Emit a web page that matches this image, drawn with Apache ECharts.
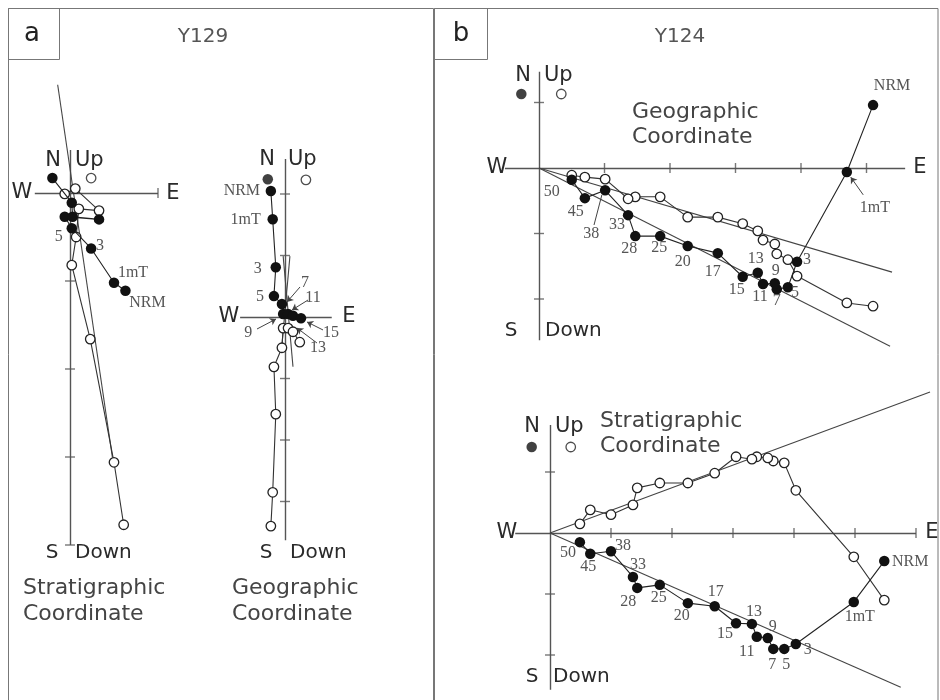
<!DOCTYPE html>
<html><head><meta charset="utf-8">
<script src="https://cdn.jsdelivr.net/npm/echarts@6/dist/echarts.min.js"></script>
<style>html,body{margin:0;padding:0;background:#fff}#c{width:940px;height:700px}</style>
</head><body><div id="c"></div>
<script>
// ================= DATA (values in axis-tick units) =================
// ---- Y129, stratigraphic coordinate (panel a, left) ----
const a1Steps = ['NRM','1mT','3','5','','','','',''];
const a1Horizontal = [[0.63,-1.11],[0.50,-1.02],[0.24,-0.63],[0.02,-0.40],[-0.06,-0.27],[0.33,-0.30],[0.03,-0.27],[0.02,-0.11],[-0.20,0.17]];
const a1Vertical   = [[0.61,-3.77],[0.50,-3.06],[0.23,-1.66],[0.02,-0.82],[0.07,-0.50],[0.10,-0.18],[0.33,-0.20],[0.06,0.05],[-0.06,-0.01]];
const a1Fits = [[[-0.14,1.23],[0.49,-3.06]]];
const a1LegendClosed = [];
const a1LegendOpen = [[0.24,0.17]];
const a1AxisX = [-0.40,1.0], a1AxisY = [-4.0,0.49];
const a1TicksX = [1], a1TicksY = [-1,-2,-3,-4];

// ---- Y129, geographic coordinate (panel a, right) ----
const a2Steps = ['NRM','1mT','3','5','7','9','11','13','15'];
const a2Horizontal = [[-0.23,2.05],[-0.20,1.59],[-0.15,0.81],[-0.18,0.34],[-0.05,0.21],[-0.03,0.05],[0.05,0.05],[0.13,0.02],[0.26,-0.02]];
const a2Vertical   = [[-0.23,-3.40],[-0.20,-2.85],[-0.15,-1.58],[-0.18,-0.81],[-0.05,-0.50],[-0.03,-0.18],[0.05,-0.18],[0.13,-0.24],[0.24,-0.41]];
const a2Fits = [[[-0.03,0.99],[0.13,-0.81]],[[0.08,0.99],[-0.05,-0.46]]];
const a2LegendClosed = [[-0.28,2.24]];
const a2LegendOpen = [[0.34,2.23]];
const a2AxisX = [-0.73,0.76], a2AxisY = [-3.63,2.57];
const a2TicksX = [], a2TicksY = [2,1,-1,-2,-3];

// ---- Y124, geographic coordinate (panel b, top) ----
const b1Steps = ['NRM','1mT','3','5','7','9','11','13','15','17','20','25','28','33','38','45','50'];
const b1Horizontal = [[5.10,0.96],[4.70,-0.06],[3.94,-1.43],[3.80,-1.82],[3.63,-1.85],[3.60,-1.76],[3.42,-1.77],[3.34,-1.60],[3.11,-1.66],[2.73,-1.30],[2.27,-1.19],[1.85,-1.04],[1.47,-1.04],[1.36,-0.72],[1.01,-0.34],[0.70,-0.46],[0.50,-0.18]];
const b1Vertical   = [[5.10,-2.11],[4.70,-2.06],[3.94,-1.65],[3.80,-1.40],[3.63,-1.31],[3.60,-1.16],[3.42,-1.10],[3.34,-0.96],[3.11,-0.85],[2.73,-0.75],[2.27,-0.75],[1.85,-0.44],[1.47,-0.44],[1.36,-0.47],[1.01,-0.17],[0.70,-0.14],[0.50,-0.11]];
const b1Fits = [[[0,0],[5.36,-2.72]],[[0,0],[5.39,-1.59]]];
const b1LegendClosed = [[-0.27,1.13]];
const b1LegendOpen = [[0.34,1.13]];
const b1AxisX = [-0.52,5.59], b1AxisY = [-2.63,1.47];
const b1TicksX = [1,2,3,4,5], b1TicksY = [1,-1,-2];

// ---- Y124, stratigraphic coordinate (panel b, bottom) ----
const b2Steps = ['NRM','1mT','3','5','7','9','11','13','15','17','20','25','28','33','38','45','50'];
const b2Horizontal = [[5.48,-0.46],[4.98,-1.13],[4.03,-1.82],[3.84,-1.90],[3.66,-1.90],[3.57,-1.72],[3.39,-1.70],[3.31,-1.49],[3.05,-1.48],[2.70,-1.20],[2.26,-1.15],[1.80,-0.85],[1.43,-0.90],[1.36,-0.72],[1.00,-0.30],[0.66,-0.34],[0.49,-0.15]];
const b2Vertical   = [[5.48,-1.10],[4.98,-0.39],[4.03,0.70],[3.84,1.15],[3.66,1.18],[3.57,1.23],[3.39,1.25],[3.31,1.21],[3.05,1.25],[2.70,0.98],[2.26,0.82],[1.80,0.82],[1.43,0.74],[1.36,0.46],[1.00,0.30],[0.66,0.38],[0.49,0.15]];
const b2Fits = [[[0,0],[6.23,2.31]],[[0,0],[5.75,-2.53]]];
const b2LegendClosed = [[-0.30,1.41]];
const b2LegendOpen = [[0.34,1.41]];
const b2AxisX = [-0.57,6.0], b2AxisY = [-2.57,1.77];
const b2TicksX = [1,2,3,4,5,6], b2TicksY = [1,-1,-2];

// ================= LAYOUT / STYLE =================
const SANS = '"DejaVu Sans", "Liberation Sans", Arial, sans-serif';
const SERIF = '"Liberation Serif", "Times New Roman", serif';
const LABEL_COLOR = '#555';

// origin pixel + pixels per unit, and visible range of each grid
const frames = [
  {ox:70,  oy:193, u:88,   xr:[-0.6,1.6], yr:[-4.3,1.4]},
  {ox:285, oy:317, u:61.5, xr:[-0.9,1.0], yr:[-3.8,2.9]},
  {ox:539, oy:168, u:65.5, xr:[-0.8,5.8], yr:[-2.9,1.6]},
  {ox:550, oy:533, u:61,   xr:[-0.8,6.2], yr:[-2.7,1.9]}
];

// label offsets (px) of step names relative to the closed symbols
const labelOffsets = [
  {'NRM':[22,12],'1mT':[19,-10],'3':[9,-3],'5':[-13,9]},
  {'NRM':[-29,0],'1mT':[-27,1],'3':[-18,2],'5':[-14,1],'7':[23,-21],'11':[25,-16],'9':[-35,19],'13':[25,32],'15':[30,15]},
  {'NRM':[19,-19],'1mT':[28,36],'3':[10,-2],'5':[7,6],'7':[0,12],'9':[1,-12],'11':[-3,13],'13':[-2,-14],'15':[-6,13],'17':[-5,19],'20':[-5,16],'25':[-1,12],'28':[-6,13],'33':[-11,10],'38':[-14,44],'45':[-9,14],'50':[-20,12]},
  {'NRM':[26,1],'1mT':[6,15],'3':[12,6],'5':[2,16],'7':[-1,16],'9':[5,-11],'11':[-10,15],'13':[2,-12],'15':[-11,11],'17':[1,-14],'20':[-6,13],'25':[-1,13],'28':[-9,14],'33':[5,-12],'38':[12,-6],'45':[-2,13],'50':[-12,11]}
];
// leader lines / arrows (in data units of each frame)
const leaders = [
  [],
  [ {c:[[0.244,0.488],[0.033,0.244]],a:true},{c:[[0.374,0.276],[0.114,0.114]],a:true},{c:[[-0.455,-0.195],[-0.146,-0.033]],a:true},
    {c:[[0.618,-0.211],[0.358,-0.081]],a:true},{c:[[0.520,-0.423],[0.195,-0.179]],a:true} ],
  [ {c:[[0.84,-0.87],[0.96,-0.41]],a:false},{c:[[4.95,-0.41],[4.76,-0.14]],a:true} ],
  []
];

const diagrams = [
  {steps:a1Steps, h:a1Horizontal, v:a1Vertical, fits:a1Fits, lc:a1LegendClosed, lo:a1LegendOpen, ax:a1AxisX, ay:a1AxisY, tx:a1TicksX, ty:a1TicksY},
  {steps:a2Steps, h:a2Horizontal, v:a2Vertical, fits:a2Fits, lc:a2LegendClosed, lo:a2LegendOpen, ax:a2AxisX, ay:a2AxisY, tx:a2TicksX, ty:a2TicksY},
  {steps:b1Steps, h:b1Horizontal, v:b1Vertical, fits:b1Fits, lc:b1LegendClosed, lo:b1LegendOpen, ax:b1AxisX, ay:b1AxisY, tx:b1TicksX, ty:b1TicksY},
  {steps:b2Steps, h:b2Horizontal, v:b2Vertical, fits:b2Fits, lc:b2LegendClosed, lo:b2LegendOpen, ax:b2AxisX, ay:b2AxisY, tx:b2TicksX, ty:b2TicksY}
];

const grids = [], xAxes = [], yAxes = [], series = [];
frames.forEach((f, i) => {
  grids.push({left: f.ox + f.xr[0]*f.u, top: f.oy - f.yr[1]*f.u,
              width: (f.xr[1]-f.xr[0])*f.u, height: (f.yr[1]-f.yr[0])*f.u,
              outerBoundsMode: 'none', containLabel: false, show: false});
  xAxes.push({type:'value', gridIndex:i, min:f.xr[0], max:f.xr[1], show:false, splitLine:{show:false}});
  yAxes.push({type:'value', gridIndex:i, min:f.yr[0], max:f.yr[1], show:false, splitLine:{show:false}});
});

diagrams.forEach((d, i) => {
  const base = {xAxisIndex:i, yAxisIndex:i, animation:false, silent:true};
  // axes
  series.push(Object.assign({}, base, {type:'lines', coordinateSystem:'cartesian2d', clip:false, z:1,
    lineStyle:{color:'#555', width:1.4, opacity:1, curveness:0},
    data:[{coords:[[d.ax[0],0],[d.ax[1],0]]},{coords:[[0,d.ay[0]],[0,d.ay[1]]]}]}));
  if (d.tx.length) series.push(Object.assign({}, base, {type:'scatter', clip:false, z:1, symbol:'rect', symbolSize:[1.4,10],
    itemStyle:{color:'#555'}, data:d.tx.map(v=>[v,0])}));
  series.push(Object.assign({}, base, {type:'scatter', clip:false, z:1, symbol:'rect', symbolSize:[10,1.4],
    itemStyle:{color:'#555'}, data:d.ty.map(v=>[0,v])}));
  // fitted lines
  series.push(Object.assign({}, base, {type:'lines', coordinateSystem:'cartesian2d', clip:false, z:2,
    lineStyle:{color:'#444', width:1.1, opacity:1, curveness:0},
    data:d.fits.map(c=>({coords:c}))}));
  // leaders
  const L = leaders[i];
  if (L.length) {
    series.push(Object.assign({}, base, {type:'lines', coordinateSystem:'cartesian2d', clip:false, z:2,
      lineStyle:{color:'#444', width:1, opacity:1, curveness:0},
      data:L.map(l=>({coords:l.c, symbol:l.a?['none','arrow']:['none','none'], symbolSize:6}))}));
  }
  // open symbols: vertical projection
  series.push(Object.assign({}, base, {type:'line', clip:false, z:3, symbol:'circle', symbolSize:9.5, showSymbol:true,
    itemStyle:{color:'#fff', borderColor:'#222', borderWidth:1.3},
    lineStyle:{color:'#333', width:1.1}, data:d.v}));
  // closed symbols: horizontal projection
  const offs = labelOffsets[i];
  series.push(Object.assign({}, base, {type:'line', clip:false, z:4, symbol:'circle', symbolSize:10.5, showSymbol:true,
    itemStyle:{color:'#111', borderColor:'#111', borderWidth:0},
    lineStyle:{color:'#222', width:1.1},
    label:{show:false},
    data:d.h.map((p,k)=>{
      const s = d.steps[k]; const o = offs[s];
      return {name:s, value:p, label: o ? {show:true, position:'inside', offset:o, formatter:'{b}',
        fontFamily:SERIF, fontSize:16, color:LABEL_COLOR, align:'center', verticalAlign:'middle'} : {show:false}};
    })}));
  // legend symbols
  if (d.lc.length) series.push(Object.assign({}, base, {type:'scatter', clip:false, z:4, symbol:'circle', symbolSize:10.5,
    itemStyle:{color:'#111'}, data:d.lc}));
  if (d.lo.length) series.push(Object.assign({}, base, {type:'scatter', clip:false, z:4, symbol:'circle', symbolSize:9.5,
    itemStyle:{color:'#fff', borderColor:'#222', borderWidth:1.3}, data:d.lo}));
});

function txt(x, y, text, size, align, color, family) {
  return {type:'text', x:x, y:y, silent:true, z:10,
    style:{text:text, font: size + 'px ' + (family||SANS), fill: color||'#2a2a2a',
      align: align||'center', textAlign: align||'center', verticalAlign:'middle', textVerticalAlign:'middle'}};
}
function rect(x, y, w, h) {
  return {type:'rect', silent:true, z:0, shape:{x:x, y:y, width:w, height:h}, style:{fill:'none', stroke:'#777', lineWidth:1}};
}

const graphic = [
  rect(8.5, 8.5, 425, 700), rect(434.5, 8.5, 503.5, 700),
  rect(8.5, 8.5, 51, 51), rect(434.5, 8.5, 53, 51),
  txt(32, 34, 'a', 26, 'center', '#222'), txt(461, 34, 'b', 26, 'center', '#222'),
  txt(203, 37, 'Y129', 20, 'center', '#555'), txt(680, 37, 'Y124', 20, 'center', '#555'),
  // a1
  txt(53, 161, 'N', 21), txt(75, 161, 'Up', 21, 'left'), txt(22, 193, 'W', 21), txt(173, 194, 'E', 21),
  txt(52, 553, 'S', 20), txt(75, 553, 'Down', 20, 'left'),
  txt(23, 588, 'Stratigraphic', 22, 'left', '#444'), txt(23, 614, 'Coordinate', 22, 'left', '#444'),
  // a2
  txt(267, 160, 'N', 21), txt(288, 160, 'Up', 21, 'left'), txt(229, 317, 'W', 21), txt(349, 317, 'E', 21),
  txt(266, 553, 'S', 20), txt(290, 553, 'Down', 20, 'left'),
  txt(232, 588, 'Geographic', 22, 'left', '#444'), txt(232, 614, 'Coordinate', 22, 'left', '#444'),
  // b1
  txt(523, 76, 'N', 21), txt(544, 76, 'Up', 21, 'left'), txt(497, 168, 'W', 21), txt(920, 168, 'E', 21),
  txt(511, 331, 'S', 20), txt(545, 331, 'Down', 20, 'left'),
  txt(632, 112, 'Geographic', 22, 'left', '#444'), txt(632, 137, 'Coordinate', 22, 'left', '#444'),
  // b2
  txt(532, 427, 'N', 21), txt(555, 427, 'Up', 21, 'left'), txt(507, 533, 'W', 21), txt(932, 533, 'E', 21),
  txt(532, 677, 'S', 20), txt(553, 677, 'Down', 20, 'left'),
  txt(600, 421, 'Stratigraphic', 22, 'left', '#444'), txt(600, 446, 'Coordinate', 22, 'left', '#444')
];

const chart = echarts.init(document.getElementById('c'), null, {renderer:'canvas'});
chart.setOption({
  animation:false,
  backgroundColor:'#fff',
  grid:grids, xAxis:xAxes, yAxis:yAxes, series:series, graphic:graphic
});
</script></body></html>
